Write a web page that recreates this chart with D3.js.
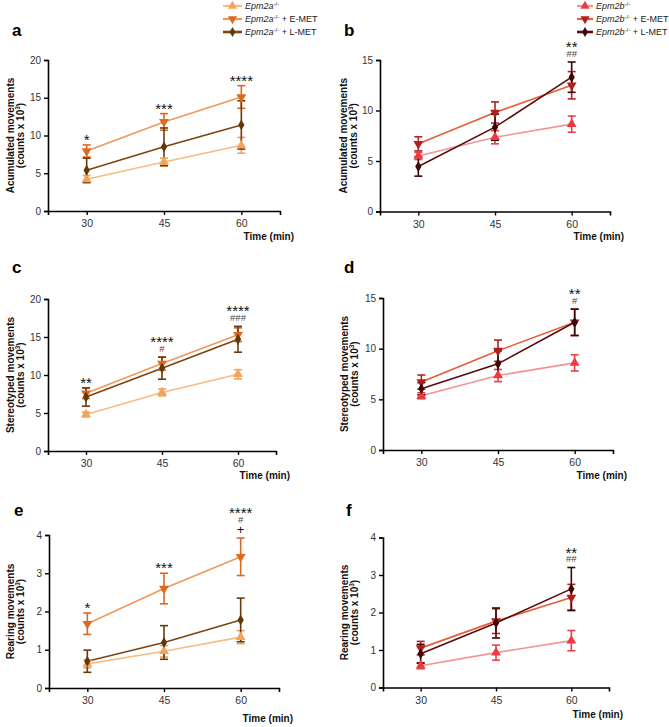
<!DOCTYPE html>
<html><head><meta charset="utf-8">
<script src="https://cdn.jsdelivr.net/npm/d3@7"></script>
<style>
html,body{margin:0;padding:0;background:#fff;}
svg{display:block;font-family:"Liberation Sans",Arial,sans-serif;}
</style></head>
<body><svg id="chart" width="669" height="727"></svg>
<script>
// ---------- DATA ----------
const times = [30, 45, 60];
const xTickLabels = ["30", "45", "60"];
const groupsA = ["Epm2a", "Epm2a + E-MET", "Epm2a + L-MET"];
const groupsB = ["Epm2b", "Epm2b + E-MET", "Epm2b + L-MET"];

// Panel a: accumulated movements, Epm2a
const aKO = [4.2, 6.5, 8.7],    aKOerr = [0.5, 0.5, 1.05];
const aE  = [7.95, 11.8, 15.1], aEerr  = [0.8, 1.1, 1.5];
const aL  = [5.4, 8.5, 11.4],   aLerr  = [1.6, 2.5, 3.2];
// Panel b: accumulated movements, Epm2b
const bKO = [5.5, 7.35, 8.65],  bKOerr = [0.35, 0.65, 0.8];
const bE  = [6.7, 9.8, 12.5],   bEerr  = [0.7, 1.05, 1.35];
const bL  = [4.45, 8.35, 13.3], bLerr  = [0.95, 1.3, 1.5];
// Panel c: stereotyped movements, Epm2a
const cKO = [4.8, 7.7, 10.1],   cKOerr = [0.3, 0.45, 0.6];
const cE  = [7.6, 11.5, 15.3],  cEerr  = [0.7, 0.85, 0.9];
const cL  = [7.1, 10.9, 14.7],  cLerr  = [1.2, 1.45, 1.7];
// Panel d: stereotyped movements, Epm2b
const dKO = [5.35, 7.35, 8.6],  dKOerr = [0.3, 0.6, 0.8];
const dE  = [6.7, 9.8, 12.6],   dEerr  = [0.7, 1.05, 1.3];
const dL  = [6.05, 8.5, 12.6],  dLerr  = [0.6, 1.3, 1.3];
// Panel e: rearing movements, Epm2a
const eKO = [0.63, 0.96, 1.33], eKOerr = [0.1, 0.15, 0.17];
const eE  = [1.68, 2.6, 3.43],  eEerr  = [0.28, 0.4, 0.49];
const eL  = [0.7, 1.19, 1.78],  eLerr  = [0.29, 0.44, 0.57];
// Panel f: rearing movements, Epm2b
const fKO = [0.58, 0.93, 1.25], fKOerr = [0.08, 0.2, 0.27];
const fE  = [1.05, 1.77, 2.4],  fEerr  = [0.18, 0.33, 0.35];
const fL  = [0.9, 1.72, 2.63],  fLerr  = [0.25, 0.4, 0.57];

// y ticks
const yTicks20 = [0, 5, 10, 15, 20];
const yTicks15 = [0, 5, 10, 15];
const yTicks4  = [0, 1, 2, 3, 4];

// significance annotations (lines listed top to bottom) per time point
const annA = [["*"], ["***"], ["****"]];
const annB = [[], [], ["**", "##"]];
const annC = [["**"], ["****", "#"], ["****", "###"]];
const annD = [[], [], ["**", "#"]];
const annE = [["*"], ["***"], ["****", "#", "+"]];
const annF = [[], [], ["**", "##"]];

// ---------- STYLE / LAYOUT ----------
const styleA = [
  {line:"#F7BD80", mark:"#F2A55A", err:"#F0A258", sym:"up"},
  {line:"#F0985A", mark:"#DE6A1E", err:"#D96A26", sym:"down"},
  {line:"#7A4512", mark:"#643708", err:"#6A3C0C", sym:"diamond"}
];
const styleB = [
  {line:"#F39494", mark:"#EC3A40", err:"#E8404A", sym:"up"},
  {line:"#E55E38", mark:"#B21F1F", err:"#B22424", sym:"down"},
  {line:"#5A0B0B", mark:"#3C0505", err:"#3E0606", sym:"diamond"}
];

const panels = [
  {id:"a", box:{l:48, r:280, t:60, b:211}, max:20, ticks:yTicks20, title:"Acumulated movements",
   series:[[aKO,aKOerr],[aE,aEerr],[aL,aLerr]], style:styleA, ann:annA, letter:[12,36], ylab:[14,24], tlab:240},
  {id:"b", box:{l:380, r:610, t:60, b:211.5}, max:15, ticks:yTicks15, title:"Acumulated movements",
   series:[[bKO,bKOerr],[bE,bEerr],[bL,bLerr]], style:styleB, ann:annB, letter:[344,36], ylab:[347,357], tlab:240},
  {id:"c", box:{l:48, r:276, t:299, b:451}, max:20, ticks:yTicks20, title:"Stereotyped movements",
   series:[[cKO,cKOerr],[cE,cEerr],[cL,cLerr]], style:styleA, ann:annC, letter:[12,273], ylab:[14,24], tlab:479},
  {id:"d", box:{l:383, r:613, t:298, b:450}, max:15, ticks:yTicks15, title:"Stereotyped movements",
   series:[[dKO,dKOerr],[dE,dEerr],[dL,dLerr]], style:styleB, ann:annD, letter:[344,273], ylab:[348,358], tlab:479},
  {id:"e", box:{l:49, r:279, t:535, b:688}, max:4, ticks:yTicks4, title:"Rearing movements",
   series:[[eKO,eKOerr],[eE,eEerr],[eL,eLerr]], style:styleA, ann:annE, letter:[14,516], ylab:[14,24], tlab:722},
  {id:"f", box:{l:383, r:609, t:537.5, b:687.5}, max:4, ticks:yTicks4, title:"Rearing movements",
   series:[[fKO,fKOerr],[fE,fEerr],[fL,fLerr]], style:styleB, ann:annF, letter:[346,516], ylab:[348,358], tlab:718}
];

const svg = d3.select("#chart");

function symbolPath(kind, s) {
  if (kind === "diamond") return d3.symbol(d3.symbolDiamond, s ? s * 0.8 : 34)();
  return d3.symbol(d3.symbolTriangle, s || 42)();
}

panels.forEach(p => {
  const g = svg.append("g");
  const x = d3.scaleLinear().domain([22.5, 67.5]).range([p.box.l, p.box.r]);
  const y = d3.scaleLinear().domain([0, p.max]).range([p.box.b, p.box.t]);

  // axes
  const xAxis = d3.axisBottom(x).tickValues(times).tickFormat((d,i)=>xTickLabels[i]).tickSizeOuter(0).tickSize(4).tickPadding(5);
  const yAxis = d3.axisLeft(y).tickValues(p.ticks).tickFormat(d3.format("d")).tickSizeOuter(0).tickSize(4).tickPadding(3);
  const gx = g.append("g").attr("transform", `translate(0,${p.box.b})`).call(xAxis);
  const gy = g.append("g").attr("transform", `translate(${p.box.l},0)`).call(yAxis);
  [gx, gy].forEach(a => {
    a.select(".domain").attr("stroke", "#000").attr("stroke-width", 1.6);
    a.selectAll(".tick line").attr("stroke", "#000").attr("stroke-width", 1.4);
    a.selectAll(".tick text").attr("fill", "#333").attr("font-size", 10)
      .attr("font-family", "Liberation Sans, Arial, sans-serif");
  });
  gx.selectAll(".tick text").attr("font-size", 10.5);

  // letter
  g.append("text").attr("x", p.letter[0]).attr("y", p.letter[1]).text(p.id)
    .attr("font-size", 17).attr("font-weight", "bold").attr("fill", "#000");

  // y label
  const cy = (p.box.t + p.box.b) / 2;
  g.append("text").attr("transform", `translate(${p.ylab[0]},${cy}) rotate(-90)`)
    .attr("text-anchor", "middle").attr("font-size", 10).attr("font-weight", "bold").attr("fill", "#111")
    .text(p.title);
  const l2 = g.append("text").attr("transform", `translate(${p.ylab[1]},${cy}) rotate(-90)`)
    .attr("text-anchor", "middle").attr("font-size", 10).attr("font-weight", "bold").attr("fill", "#111");
  l2.append("tspan").text("(counts x 10");
  l2.append("tspan").attr("font-size", 6.5).attr("dy", -4).text("3");
  l2.append("tspan").attr("dy", 4).text(")");

  // x label
  g.append("text").attr("x", p.box.r + 14).attr("y", p.tlab).attr("text-anchor", "end")
    .attr("font-size", 10).attr("font-weight", "bold").attr("fill", "#111").text("Time (min)");

  // lines
  const line = d3.line().x((d,i)=>x(times[i])).y(d=>y(d));
  p.series.forEach((s, k) => {
    g.append("path").datum(s[0]).attr("d", line).attr("fill", "none")
      .attr("stroke", p.style[k].line).attr("stroke-width", 1.6);
  });
  // error bars
  const cap = 4;
  p.series.forEach((s, k) => {
    const eg = g.append("g").attr("stroke", p.style[k].err).attr("stroke-width", 1.6);
    s[0].forEach((v, i) => {
      const xx = x(times[i]), yt = y(v + s[1][i]), yb = y(v - s[1][i]);
      eg.append("line").attr("x1", xx).attr("x2", xx).attr("y1", yt).attr("y2", yb);
      eg.append("line").attr("x1", xx-cap).attr("x2", xx+cap).attr("y1", yt).attr("y2", yt);
      eg.append("line").attr("x1", xx-cap).attr("x2", xx+cap).attr("y1", yb).attr("y2", yb);
    });
  });
  // markers
  p.series.forEach((s, k) => {
    const st = p.style[k];
    g.append("g").selectAll("path").data(s[0]).join("path")
      .attr("d", symbolPath(st.sym))
      .attr("transform", (d,i)=>`translate(${x(times[i])},${y(d)})` + (st.sym==="down" ? " rotate(180)" : ""))
      .attr("fill", st.mark);
  });

  // annotations: one text element per time point, stacked lines as tspans
  p.ann.forEach((lines, i) => {
    if (!lines.length) return;
    let top = Infinity;
    p.series.forEach(s => { top = Math.min(top, y(s[0][i] + s[1][i])); });
    const xx = x(times[i]);
    const n = lines.length;
    const txt = g.append("text").attr("text-anchor", "middle").attr("x", xx).attr("y", 0);
    lines.forEach((t, j) => {
      const center = top - 8.5 - (n - 1 - j) * 10;
      let fs, off, fill;
      if (t[0] === "*") { fs = 15; off = 8.6; fill = "#111"; }
      else if (t[0] === "#") { fs = 9.5; off = 3.4; fill = "#444"; }
      else { fs = 13; off = 4.3; fill = "#111"; }
      txt.append("tspan").attr("x", xx).attr("y", center + off)
        .attr("font-size", fs).attr("fill", fill).text(t);
    });
  });
});

// legends
function legend(x0, lineW, names, style, base) {
  const lg = svg.append("g");
  names.forEach((n, i) => {
    const yy = 6 + i * 13;
    const st = style[i];
    lg.append("line").attr("x1", x0).attr("x2", x0 + lineW).attr("y1", yy).attr("y2", yy)
      .attr("stroke", st.line).attr("stroke-width", i === 2 ? 2.6 : 2.2);
    lg.append("path").attr("d", symbolPath(st.sym, 36))
      .attr("transform", `translate(${x0 + lineW / 2},${yy})` + (st.sym==="down" ? " rotate(180)" : ""))
      .attr("fill", st.mark);
    const t = lg.append("text").attr("x", x0 + lineW + 3).attr("y", yy + 3.3).attr("font-size", 9).attr("fill", "#222");
    t.append("tspan").attr("font-style", "italic").text(base);
    t.append("tspan").attr("font-size", 6).attr("dy", -3.5).text("-/-");
    const rest = n.slice(base.length);
    if (rest) t.append("tspan").attr("dy", 3.5).text(rest);
  });
}
legend(223, 19, groupsA, styleA, "Epm2a");
legend(577, 16, groupsB, styleB, "Epm2b");
</script></body></html>
